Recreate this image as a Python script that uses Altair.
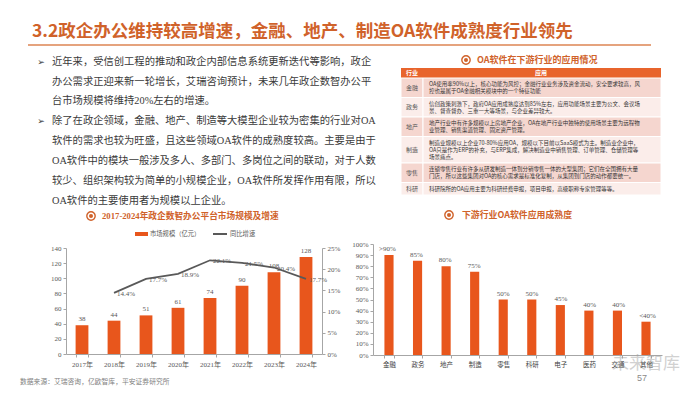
import altair as alt
import pandas as pd

W, H = 684, 378
M = 8  # page margin


def px(v):
    return v - M


# ---------------- data ----------------
years = ["2017年", "2018年", "2019年", "2020年", "2021年", "2022年", "2023年", "2024年"]
market = [38, 44, 51, 61, 74, 90, 108, 128]
growth_years = ["2018年", "2019年", "2020年", "2021年", "2022年", "2023年", "2024年"]
growth = [14.4, 17.7, 18.9, 22.1, 21.5, 20.4, 17.7]

industries = ["金融", "政务", "地产", "制造", "零售", "科研", "电子", "医药", "交通", "其他"]
maturity = [90, 85, 80, 75, 50, 50, 45, 40, 40, 30]
maturity_labels = [">90%", "85%", "80%", "75%", "50%", "50%", "45%", "40%", "40%", "<40%"]

title = "3.2政企办公维持较高增速，金融、地产、制造OA软件成熟度行业领先"
para1 = [
    "近年来，受信创工程的推动和政企内部信息系统更新迭代等影响，政企",
    "办公需求正迎来新一轮增长，艾瑞咨询预计，未来几年政企数智办公平",
    "台市场规模将维持20%左右的增速。",
]
para2 = [
    "除了在政企领域，金融、地产、制造等大模型企业较为密集的行业对OA",
    "软件的需求也较为旺盛，且这些领域OA软件的成熟度较高。主要是由于",
    "OA软件中的模块一般涉及多人、多部门、多岗位之间的联动，对于人数",
    "较少、组织架构较为简单的小规模企业，OA软件所发挥作用有限，所以",
    "OA软件的主要使用者为规模以上企业。",
]
table_industry = ["金融", "政务", "地产", "制造", "零售", "科研"]
table_text = [
    ["OA使用率90%以上，核心功能为风控；金融行业业务涉及资金流动，安全要求较高，风",
     "控也是属于OA金融相关模块中的一个特征功能"],
    ["信创政策刺激下，政府OA应用成熟度达到85%左右，应用功能场景主要为公文、会议场",
     "景、督查督办、三重一大等场景，与企业差异较大。"],
    ["地产行业中有许多规模以上房地产企业，OA在地产行业中独特的使用场景主要为远程物",
     "业管理、销售渠道管理、固定资产管理。"],
    ["制造业规模以上企业70-80%应用OA，规模以下目前以SaaS模式为主。制造业企业中，",
     "OA只是作为ERP的补充，与ERP集成，解决制造业中销售管理、订单管理、仓储管理等",
     "场景痛点。"],
    ["连锁零售行业有许多从研发制造一体到分销零售一体的大型集团；它们在全国拥有大量",
     "门店，所以这些集团对OA的核心需求是标准化复制，从集团到门店的动作都要统一。"],
    ["科研院所的OA应用主要为科研经费申报，项目申报，高级职称专家管理等等。"],
]
chart1_title = "2017-2024年政企数智办公平台市场规模及增速"
chart2_title = "下游行业OA软件应用成熟度"
table_title = "OA软件在下游行业的应用情况"
legend_items = ["市场规模（亿元）", "同比增速"]
source = "数据来源：艾瑞咨询，亿欧智库，平安证券研究所"

# ---------------- styles ----------------
CJK = "Noto Sans CJK SC"
SERIF = "Liberation Serif, Noto Sans CJK SC"
ORANGE = "#E8561C"
TITLE_C = "#D0622A"
GREY = "#595959"
TEXT_C = "#3a3a3a"

ONE = pd.DataFrame({"k": [0]})


def tx(text, x, y, size, color, weight="normal", align="left", font=CJK, opacity=1.0):
    return alt.Chart(ONE).mark_text(
        text=text, fontSize=size, color=color, fontWeight=weight, align=align,
        baseline="middle", font=font, opacity=opacity
    ).encode(x=alt.value(px(x)), y=alt.value(px(y)))


def icon(x, y):
    ring = alt.Chart(ONE).mark_point(shape="circle", filled=False, size=70, strokeWidth=1.4,
                                     color=TITLE_C, opacity=1).encode(
        x=alt.value(px(x)), y=alt.value(px(y)))
    dot = alt.Chart(ONE).mark_circle(size=16, color=TITLE_C, opacity=1).encode(
        x=alt.value(px(x)), y=alt.value(px(y)))
    return [ring, dot]


layers = []

# ---------------- slide title ----------------
layers.append(tx(title, 32, 32, 17.5, TITLE_C, weight="bold"))
layers.append(alt.Chart(ONE).mark_rule(color="#DC8453", strokeWidth=1.5).encode(
    x=alt.value(px(28)), x2=alt.value(px(651)), y=alt.value(px(45))))

# ---------------- paragraphs ----------------
rows = []
for i, line in enumerate(para1):
    rows.append({"t": line, "x": px(52), "y": px(62 + 19.7 * i)})
for i, line in enumerate(para2):
    rows.append({"t": line, "x": px(52), "y": px(121 + 19.9 * i)})
para_df = pd.DataFrame(rows)
layers.append(alt.Chart(para_df).mark_text(align="left", baseline="middle", fontSize=10.3,
                                           font=SERIF, color=TEXT_C).encode(
    x=alt.X("x:Q", scale=None), y=alt.Y("y:Q", scale=None), text="t:N"))
bul = pd.DataFrame({"t": ["➢", "➢"], "x": [px(41), px(41)], "y": [px(62), px(121)]})
layers.append(alt.Chart(bul).mark_text(align="center", baseline="middle", fontSize=9,
                                       font="DejaVu Sans", color=TEXT_C).encode(
    x=alt.X("x:Q", scale=None), y=alt.Y("y:Q", scale=None), text="t:N"))

# ---------------- table ----------------
layers += icon(466, 60)
layers.append(tx(table_title, 477, 60, 9, TITLE_C, weight="bold"))
TX0, TX1, TSPLIT = 401, 661, 423
layers.append(alt.Chart(ONE).mark_rect(color="#E8642C").encode(
    x=alt.value(px(TX0)), x2=alt.value(px(TX1)), y=alt.value(px(68)), y2=alt.value(px(78))))
layers.append(tx("行业", 412, 73, 6, "white", weight="bold", align="center"))
layers.append(tx("应用", 541, 73, 6, "white", weight="bold", align="center"))

cell_rows, line_rows, ind_rows = [], [], []
ty = 78.0
for r, (ind, lines) in enumerate(zip(table_industry, table_text)):
    h = 5.5 + 7.0 * len(lines)
    fill = "#F5D6CF" if r % 2 == 0 else "#FBEDEA"
    cell_rows.append({"x0": px(TX0), "x1": px(TSPLIT), "y0": px(ty), "y1": px(ty + h), "f": fill})
    cell_rows.append({"x0": px(TSPLIT), "x1": px(TX1), "y0": px(ty), "y1": px(ty + h), "f": fill})
    ind_rows.append({"t": ind, "x": px(412), "y": px(ty + h / 2)})
    for i, ln in enumerate(lines):
        line_rows.append({"t": ln, "x": px(429), "y": px(ty + 2.75 + 3.5 + 7.0 * i)})
    ty += h
cells = pd.DataFrame(cell_rows)
layers.append(alt.Chart(cells).mark_rect(stroke="white", strokeWidth=1).encode(
    x=alt.X("x0:Q", scale=None), x2="x1:Q", y=alt.Y("y0:Q", scale=None), y2="y1:Q",
    fill=alt.Fill("f:N", scale=None)))
layers.append(alt.Chart(pd.DataFrame(ind_rows)).mark_text(
    align="center", baseline="middle", fontSize=6, font=CJK, color="#555555").encode(
    x=alt.X("x:Q", scale=None), y=alt.Y("y:Q", scale=None), text="t:N"))
layers.append(alt.Chart(pd.DataFrame(line_rows)).mark_text(
    align="left", baseline="middle", fontSize=5.5, font=CJK, color="#333333").encode(
    x=alt.X("x:Q", scale=None), y=alt.Y("y:Q", scale=None), text="t:N"))

# ---------------- chart 1 ----------------
layers += icon(91, 216)
layers.append(tx(chart1_title, 102, 216, 8.7, TITLE_C, weight="bold", font=SERIF))
layers.append(alt.Chart(ONE).mark_rect(color=ORANGE).encode(
    x=alt.value(px(135)), x2=alt.value(px(148)), y=alt.value(px(232)), y2=alt.value(px(236))))
layers.append(tx(legend_items[0], 150, 234, 6.3, GREY))
layers.append(alt.Chart(ONE).mark_rule(color=GREY, strokeWidth=2).encode(
    x=alt.value(px(213)), x2=alt.value(px(227)), y=alt.value(px(234))))
layers.append(tx(legend_items[1], 230, 234, 6.3, GREY))

AX = dict(labelFont=SERIF, labelFontSize=7, labelColor=GREY, domainColor="#A6A6A6",
          tickColor="#A6A6A6", tickSize=3, grid=False, title=None)


def x1(axis=None):
    return alt.X("year:N", sort=years,
                 scale=alt.Scale(domain=years, range=[px(66), px(322)], paddingInner=0.6,
                                 paddingOuter=0.3),
                 axis=axis)


def y1(axis=None):
    return alt.Y("v:Q", scale=alt.Scale(domain=[0, 140], range=[px(354), px(248)], nice=False),
                 axis=axis)


def y1r(axis=None):
    return alt.Y("g:Q", scale=alt.Scale(domain=[0, 25], range=[px(354), px(248)], nice=False),
                 axis=axis)


bars1 = pd.DataFrame({"year": years, "v": market})
line1 = pd.DataFrame({"year": growth_years, "g": growth,
                      "lab": [f"{g:.1f}%" for g in growth]})

layers.append(alt.Chart(bars1).mark_bar(color=ORANGE).encode(
    x=x1(alt.Axis(orient="bottom", offset=px(354) - H, tickBand="extent", labelPadding=3,
                  labelAngle=0, **AX)),
    y=y1(alt.Axis(orient="left", offset=-px(66), values=list(range(0, 141, 20)),
                  labelPadding=2, **AX))))
layers.append(alt.Chart(bars1).mark_text(baseline="bottom", dy=-3, fontSize=7, font=SERIF,
                                         color=GREY).encode(x=x1(), y=y1(), text="v:Q"))
layers.append(alt.Chart(line1).mark_line(color=GREY, strokeWidth=1.8).encode(
    x=x1(),
    y=y1r(alt.Axis(orient="right", offset=px(322) - W, values=[0, 5, 10, 15, 20, 25],
                   labelExpr="datum.value + '%'", labelPadding=2, **AX))))
layers.append(alt.Chart(line1).mark_text(align="left", baseline="middle", dx=3, dy=1,
                                         fontSize=7, font=SERIF, color=GREY).encode(
    x=x1(), y=y1r(), text="lab:N"))

# ---------------- chart 2 ----------------
layers += icon(449, 215)
layers.append(tx(chart2_title, 462, 215, 8.9, TITLE_C, weight="bold"))


def x2(axis=None):
    return alt.X("ind:N", sort=industries,
                 scale=alt.Scale(domain=industries, range=[px(373), px(662)], paddingInner=0.68,
                                 paddingOuter=0.4),
                 axis=axis)


def y2(axis=None):
    return alt.Y("m:Q", scale=alt.Scale(domain=[0, 100], range=[px(355), px(244)], nice=False),
                 axis=axis)


bars2 = pd.DataFrame({"ind": industries, "m": maturity, "lab": maturity_labels})
layers.append(alt.Chart(bars2).mark_bar(color=ORANGE).encode(
    x=x2(alt.Axis(orient="bottom", offset=px(355) - H, tickBand="extent", labelPadding=3,
                  labelAngle=0, labelFont=CJK, labelFontSize=6.5, labelColor="#404040",
                  domainColor="#A6A6A6", tickColor="#A6A6A6", tickSize=3, grid=False,
                  title=None)),
    y=y2(alt.Axis(orient="left", offset=-px(373), values=list(range(0, 101, 10)),
                  labelExpr="datum.value + '%'", labelPadding=2, **AX))))
layers.append(alt.Chart(bars2).mark_text(baseline="bottom", dy=-3, fontSize=7, font=SERIF,
                                         color=GREY).encode(x=x2(), y=y2(), text="lab:N"))

# ---------------- footer ----------------
layers.append(tx(source, 20, 382, 6.8, "#7f7f7f"))
layers.append(tx("未来智库", 612, 364, 17, "#9a9a9a", opacity=0.45))
layers.append(tx("57", 642, 378, 9, "#8a8a8a", align="center", font="Liberation Sans"))

chart = alt.layer(*layers).resolve_scale(
    x="independent", y="independent"
).properties(
    width=W, height=H, autosize="none", padding=0, background="white"
).configure_view(stroke=None)

chart.save("out.html", embed_options={"renderer": "svg", "actions": False})
